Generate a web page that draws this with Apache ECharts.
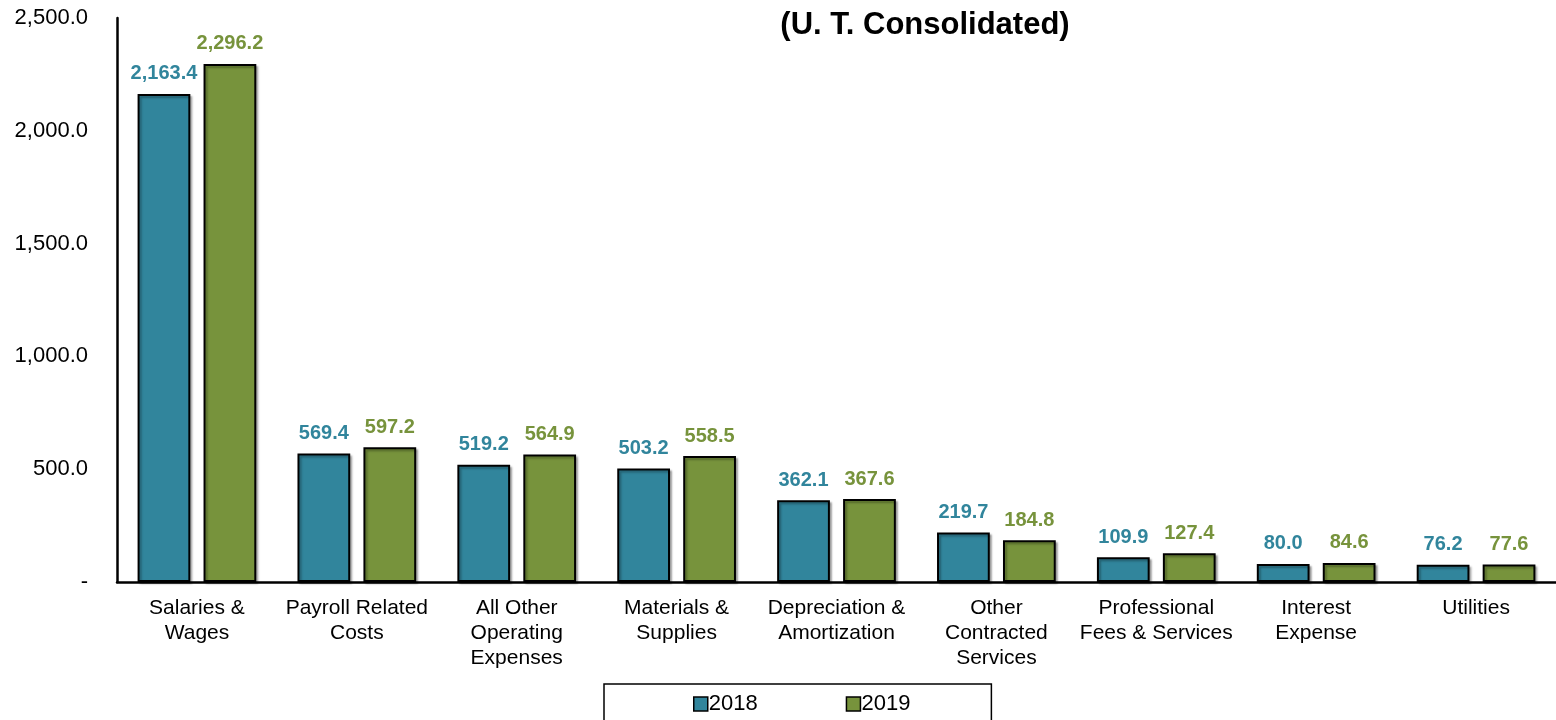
<!DOCTYPE html>
<html>
<head>
    <meta charset="utf-8">
    <title>Operating Expenses</title>
    <script src="https://cdn.jsdelivr.net/npm/echarts@6/dist/echarts.min.js"></script>
    <style>
        html, body { margin: 0; padding: 0; background: #fff; }
        #chart { width: 1556px; height: 720px; }
    </style>
</head>
<body>
<div id="chart"></div>
<script type="text/javascript">
    // categories and values (millions)
    var categories = ['Salaries &\nWages', 'Payroll Related\nCosts', 'All Other\nOperating\nExpenses',
        'Materials &\nSupplies', 'Depreciation &\nAmortization', 'Other\nContracted\nServices',
        'Professional\nFees & Services', 'Interest\nExpense', 'Utilities'];
    var values2018 = [2163.4, 569.4, 519.2, 503.2, 362.1, 219.7, 109.9, 80.0, 76.2];
    var values2019 = [2296.2, 597.2, 564.9, 558.5, 367.6, 184.8, 127.4, 84.6, 77.6];

    var blue = '#31859C';
    var green = '#77933C';
    var font = '"Liberation Sans", Arial, sans-serif';

    function fmt(v) {
        return v.toLocaleString('en-US', {minimumFractionDigits: 1, maximumFractionDigits: 1});
    }

    var barStyle = function (c) {
        return {
            color: c,
            borderColor: '#000',
            borderWidth: 2,
            shadowColor: 'rgba(0,0,0,0.3)',
            shadowOffsetX: 2,
            shadowOffsetY: 2,
            shadowBlur: 2
        };
    };

    var labelStyle = function (c) {
        return {
            show: true,
            position: 'top',
            distance: 10,
            fontFamily: font,
            fontSize: 20,
            fontWeight: 'bold',
            color: c,
            formatter: function (p) { return fmt(p.value); }
        };
    };

    var myChart = echarts.init(document.getElementById('chart'));
    var option = {
        animation: false,
        title: {
            text: '(U. T. Consolidated)',
            left: 920,
            top: 5,
            textAlign: 'center',
            textStyle: { fontFamily: font, fontSize: 31, fontWeight: 'bold', color: '#000' }
        },
        grid: { left: 117, right: 0, top: 18, bottom: 138, containLabel: false },
        legend: {
            data: ['2018', '2019'],
            left: 604,
            top: 684,
            padding: [9, 81, 9, 89],
            borderColor: '#000',
            borderWidth: 1.5,
            itemWidth: 14,
            itemHeight: 14,
            itemGap: 88,
            icon: 'rect',
            itemStyle: { borderColor: '#000', borderWidth: 1.5, shadowBlur: 0, shadowOffsetX: 0, shadowOffsetY: 0 },
            textStyle: { fontFamily: font, fontSize: 22, color: '#000', padding: [0, 0, 0, -4] }
        },
        xAxis: {
            type: 'category',
            data: categories,
            axisLine: { lineStyle: { color: '#000', width: 2.5 } },
            axisTick: { show: false },
            axisLabel: {
                interval: 0,
                margin: 14,
                fontFamily: font,
                fontSize: 21,
                lineHeight: 25,
                color: '#000'
            }
        },
        yAxis: {
            type: 'value',
            min: 0,
            max: 2500,
            interval: 500,
            axisLine: { show: true, lineStyle: { color: '#000', width: 2.5 } },
            axisTick: { show: false },
            splitLine: { show: false },
            axisLabel: {
                margin: 29,
                fontFamily: font,
                fontSize: 22,
                color: '#000',
                formatter: function (v) { return v === 0 ? '-' : fmt(v); }
            }
        },
        series: [
            {
                name: '2018',
                type: 'bar',
                data: values2018,
                barWidth: '33%',
                barGap: '25%',
                itemStyle: barStyle(blue),
                label: labelStyle(blue)
            },
            {
                name: '2019',
                type: 'bar',
                data: values2019,
                barWidth: '33%',
                itemStyle: barStyle(green),
                label: labelStyle(green)
            }
        ]
    };
    myChart.setOption(option);
</script>
</body>
</html>
